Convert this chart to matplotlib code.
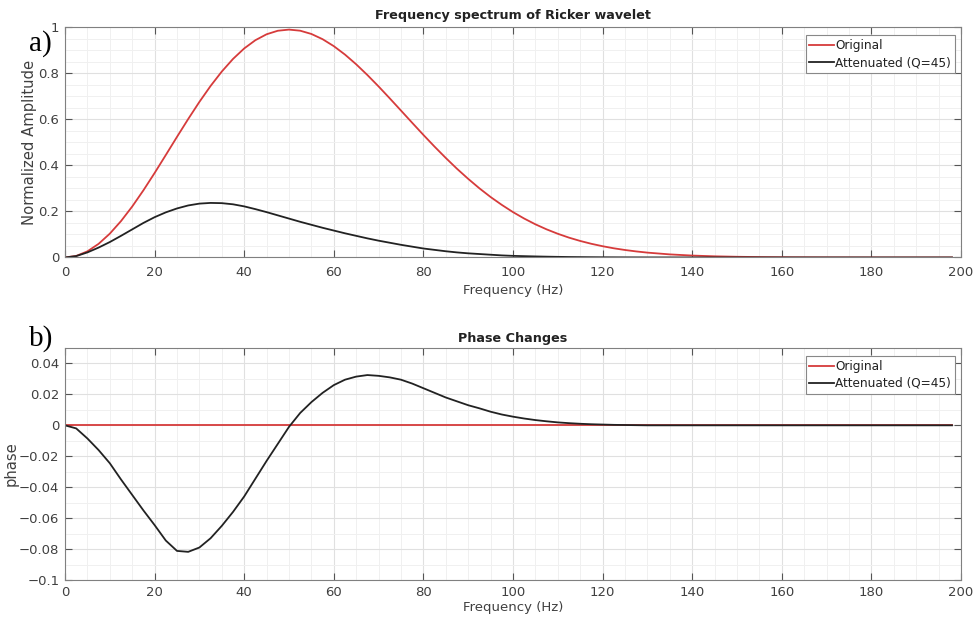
import matplotlib
matplotlib.use("Agg")
import matplotlib.pyplot as plt
from matplotlib.ticker import MultipleLocator

# ---------------- data ----------------
freq = [0, 2.5, 5, 7.5, 10, 12.5, 15, 17.5, 20, 22.5,
        25, 27.5, 30, 32.5, 35, 37.5, 40, 42.5, 45, 47.5,
        50, 52.5, 55, 57.5, 60, 62.5, 65, 67.5, 70, 72.5,
        75, 77.5, 80, 82.5, 85, 87.5, 90, 92.5, 95, 97.5,
        100, 102.5, 105, 107.5, 110, 112.5, 115, 117.5, 120, 122.5,
        125, 127.5, 130,
        135, 140, 145, 150, 155, 160, 165, 170, 175, 180, 185, 190, 195, 198]

amp_original = [0.0, 0.0067, 0.0266, 0.0592, 0.1034, 0.158, 0.2213, 0.2917, 0.3669, 0.4451,
                0.524, 0.6015, 0.6759, 0.7452, 0.8078, 0.8625, 0.9081, 0.944, 0.9697, 0.985,
                0.99, 0.9852, 0.971, 0.9483, 0.9181, 0.8814, 0.8392, 0.7926, 0.743, 0.6911,
                0.6382, 0.5851, 0.5325, 0.4814, 0.4323, 0.3854, 0.3416, 0.3005, 0.2627, 0.2285,
                0.1971, 0.1691, 0.1441, 0.1222, 0.103, 0.0862, 0.0718, 0.0594, 0.0489, 0.0399,
                0.0325, 0.0263, 0.0211,
                0.0134, 0.0083, 0.005, 0.003, 0.0018, 0.001, 0.0006, 0.0003, 0.0002, 0.0001,
                0.0, 0.0, 0.0, 0.0]

amp_attenuated = [0.0, 0.006, 0.022, 0.043, 0.067, 0.094, 0.122, 0.150, 0.175, 0.196,
                  0.213, 0.226, 0.234, 0.237, 0.236, 0.231, 0.222, 0.210, 0.197, 0.183,
                  0.169, 0.155, 0.142, 0.129, 0.117, 0.105, 0.094, 0.083, 0.073, 0.064,
                  0.055, 0.047, 0.039, 0.033, 0.027, 0.022, 0.018, 0.015, 0.012, 0.009,
                  0.007, 0.0057, 0.0045, 0.0035, 0.0027, 0.002, 0.0016, 0.0012, 0.0009, 0.0007,
                  0.0005, 0.0004, 0.0003,
                  0.0002, 0.0001, 0.0, 0.0, 0.0, 0.0, 0.0, 0.0, 0.0, 0.0, 0.0, 0.0, 0.0, 0.0]

phase_original = [0.0] * 67

phase_attenuated = [0.0, -0.002, -0.0085, -0.016, -0.0245, -0.035, -0.045, -0.055, -0.0645, -0.0745,
                    -0.0812, -0.0818, -0.079, -0.073, -0.065, -0.056, -0.046, -0.0345, -0.023, -0.012,
                    -0.001, 0.008, 0.015, 0.021, 0.026, 0.0295, 0.0315, 0.0325, 0.032, 0.031,
                    0.0295, 0.027, 0.024, 0.021, 0.018, 0.0155, 0.013, 0.011, 0.0088, 0.007,
                    0.0056, 0.0044, 0.0034, 0.0026, 0.0019, 0.0014, 0.001, 0.0007, 0.0005, 0.0003,
                    0.0002, 0.0001, 0.0,
                    0.0, 0.0, 0.0, 0.0, 0.0, 0.0, 0.0, 0.0, 0.0, 0.0, 0.0, 0.0, 0.0, 0.0]

x_ticks = list(range(0, 201, 20))
amp_ticks = [0, 0.2, 0.4, 0.6, 0.8, 1.0]
amp_tick_labels = ["0", "0.2", "0.4", "0.6", "0.8", "1"]
phase_ticks = [-0.1, -0.08, -0.06, -0.04, -0.02, 0, 0.02, 0.04]
phase_tick_labels = ["\u22120.1", "\u22120.08", "\u22120.06", "\u22120.04",
                     "\u22120.02", "0", "0.02", "0.04"]

labels = ["Original", "Attenuated (Q=45)"]
titles = ["Frequency spectrum of Ricker wavelet", "Phase Changes"]

# ---------------- style ----------------
RED = "#d63b3b"
BLACK = "#222222"
TXT = "#404040"
plt.rcParams["font.family"] = ["DejaVu Sans"]

fig = plt.figure(figsize=(9.76, 6.26), dpi=100)
ax1 = fig.add_axes([0.0666, 0.5887, 0.918, 0.3677])
ax2 = fig.add_axes([0.0666, 0.0735, 0.918, 0.3706])


def style(ax, yminor, pad, labelpad):
    ax.set_xlim(0, 200)
    ax.set_xticks(x_ticks)
    ax.xaxis.set_minor_locator(MultipleLocator(5))
    ax.yaxis.set_minor_locator(MultipleLocator(yminor))
    ax.grid(which="major", color="#e0e0e0", linewidth=0.8)
    ax.grid(which="minor", color="#f0f0f0", linewidth=0.7)
    ax.set_axisbelow(True)
    ax.tick_params(which="major", direction="in", length=5, width=0.8,
                   top=True, right=True, colors="#555555", labelcolor=TXT,
                   labelsize=9.5, pad=4)
    ax.tick_params(axis="x", which="major", pad=pad)
    ax.tick_params(which="minor", length=0)
    for s in ax.spines.values():
        s.set_color("#808080")
        s.set_linewidth(0.8)
    ax.set_xlabel("Frequency (Hz)", fontsize=9.5, color=TXT, labelpad=labelpad)


# top panel
ax1.plot(freq, amp_original, color=RED, lw=1.3, label=labels[0])
ax1.plot(freq, amp_attenuated, color=BLACK, lw=1.3, label=labels[1])
ax1.set_ylim(0, 1)
ax1.set_yticks(amp_ticks)
ax1.set_yticklabels(amp_tick_labels)
style(ax1, 0.05, 6, 4)
ax1.set_ylabel("Normalized Amplitude", fontsize=10.6, color=TXT, labelpad=1)
ax1.set_title(titles[0], fontsize=9.2, fontweight="bold", color="#222222", pad=6)

# bottom panel
ax2.plot(freq, phase_original, color=RED, lw=1.3, label=labels[0])
ax2.plot(freq, phase_attenuated, color=BLACK, lw=1.3, label=labels[1])
ax2.set_ylim(-0.1, 0.05)
ax2.set_yticks(phase_ticks)
ax2.set_yticklabels(phase_tick_labels)
style(ax2, 0.01, 4, 2)
ax2.set_ylabel("phase", fontsize=10.6, color=TXT, labelpad=0.5)
ax2.set_title(titles[1], fontsize=9.2, fontweight="bold", color="#222222", pad=4)

for ax in (ax1, ax2):
    leg = ax.legend(loc="upper right", bbox_to_anchor=(0.9933, 0.965), fontsize=8.7,
                    frameon=True, fancybox=False, framealpha=1, edgecolor="#888888",
                    handlelength=2.0, handletextpad=0.15, borderpad=0.3,
                    labelspacing=0.35, borderaxespad=0.0)
    leg.get_frame().set_linewidth(0.8)
    for t in leg.get_texts():
        t.set_color("#222222")

fig.text(0.030, 0.931, "a)", fontsize=21, family=["Liberation Serif"], color="black",
         va="center", ha="left")
fig.text(0.030, 0.460, "b)", fontsize=21, family=["Liberation Serif"], color="black",
         va="center", ha="left")

fig.savefig("out.png", dpi=100)
